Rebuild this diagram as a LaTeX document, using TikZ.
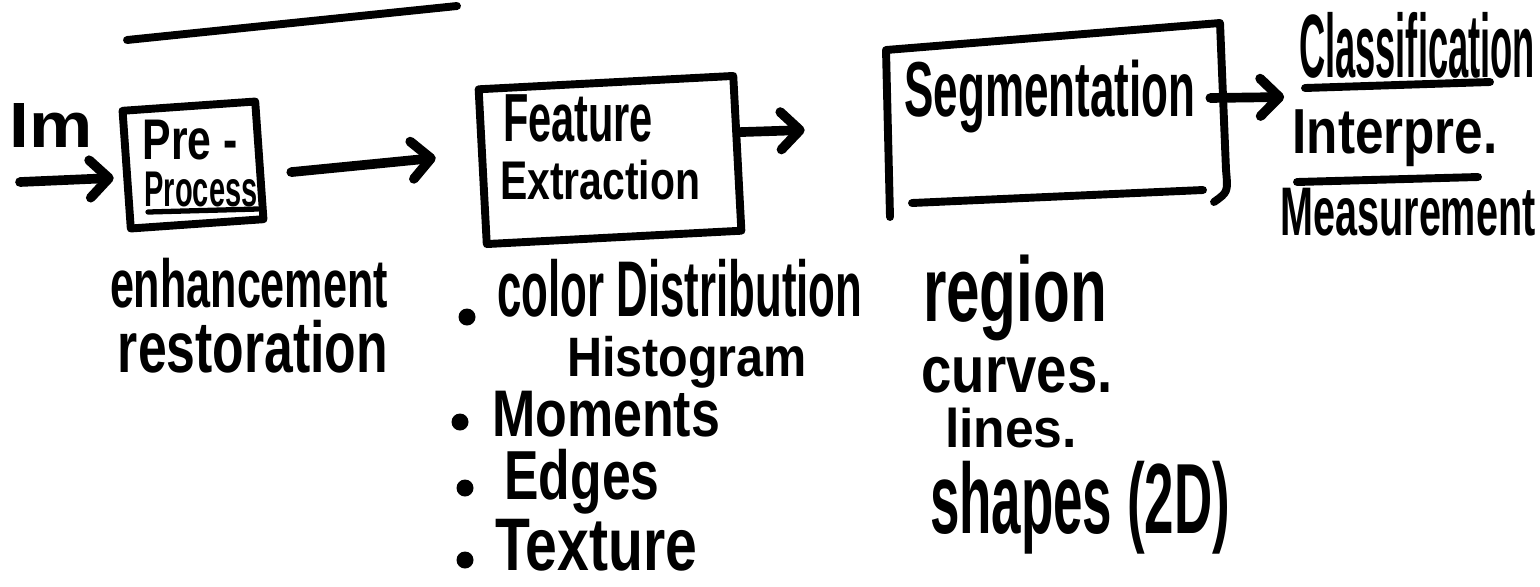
\documentclass[tikz,border=0pt]{standalone}
\usepackage{fontspec}
\setmainfont{Liberation Sans}
\usepackage{graphicx}
\usetikzlibrary{arrows.meta,calc}
\newcommand{\hw}[3]{\resizebox*{#1cm}{#2cm}{\bfseries #3}}
\tikzset{
  box/.style={draw, line width=4.5pt, line join=round, inner sep=0pt},
  ink/.style={line width=4.5pt, line cap=round, line join=round},
  thinink/.style={line width=3pt, line cap=round},
  arr/.style={line width=5.5pt, line cap=round,
    -{Straight Barb[length=0.38cm,width=0.75cm,line cap=round,line join=round]}},
  lbl/.style={inner sep=0pt, anchor=center},
  dot/.style={circle, fill, inner sep=0pt, minimum size=0.34cm}
}
\begin{document}
\begin{tikzpicture}[x=0.02cm, y=-0.02cm]
\useasboundingbox (0,0) rectangle (1540,586);

% title underline (title itself cut off)
\draw[ink] (127,40) -- (457,6);

% boxes
\node[box, minimum width=2.66cm, minimum height=2.36cm, rotate=4] (pre) at (193,165) {};
\node[box, minimum width=5.1cm, minimum height=3.1cm, rotate=3] (feat) at (610,160) {};
\node[inner sep=0pt, minimum width=6.76cm, minimum height=3.88cm] (seg) at (1055,120) {};
\node[inner sep=0pt, minimum width=5.1cm, minimum height=4.6cm] (cls) at (1408,123) {};

% segmentation outline
\draw[ink] (890,217) -- (886,50) -- (1220,23) -- (1226,170) .. controls (1228,192) .. (1214,202);
\draw[ink] (912,203) -- (1203,190);

% texts
\node[lbl] (im) at (51,125) {\hw{1.66}{0.88}{Im}};
\node[lbl] (tpre) at (190,140) {\hw{1.90}{0.80}{Pre -}};
\node[lbl] (tproc) at (201,189) {\hw{2.26}{0.70}{Process}};
\draw[thinink] (148,212) -- (258,209);
\node[lbl] (tfeat) at (578,118) {\hw{3.00}{0.95}{Feature}};
\node[lbl] (text) at (600,180) {\hw{4.00}{0.80}{Extraction}};
\node[lbl] (tseg) at (1050,97) {\hw{5.82}{1.46}{Segmentation}};
\node[lbl] (tcls) at (1417,45) {\hw{4.72}{1.32}{Classification}};
\node[lbl] (tint) at (1395,138) {\hw{4.10}{1.14}{Interpre.}};
\node[lbl] (tmea) at (1408,212) {\hw{5.10}{0.96}{Measurement}};
\draw[ink] (1305,88) -- (1490,82);
\draw[ink] (1297,182) -- (1478,177);

\node[lbl] (enh) at (249,283) {\hw{5.56}{1.00}{enhancement}};
\node[lbl] (res) at (253,347) {\hw{5.40}{1.06}{restoration}};

\node[dot] (b1) at (467,317) {};
\node[dot] (b2) at (460,422) {};
\node[dot] (b3) at (465,488) {};
\node[dot] (b4) at (465,560) {};
\node[lbl] (col) at (680,288) {\hw{7.30}{1.16}{color Distribution}};
\node[lbl] (his) at (687,362) {\hw{4.80}{1.04}{Histogram}};
\node[lbl] (mom) at (606,414) {\hw{4.56}{0.92}{Moments}};
\node[lbl] (edg) at (582,482) {\hw{3.10}{1.30}{Edges}};
\node[lbl] (tex) at (596,545) {\hw{4.04}{1.04}{Texture}};

\node[lbl] (reg) at (1015,298) {\hw{3.68}{1.72}{region}};
\node[lbl] (cur) at (1017,375) {\hw{3.82}{0.72}{curves.}};
\node[lbl] (lin) at (1011,428) {\hw{2.64}{0.80}{lines.}};
\node[lbl] (sha) at (1080,508) {\hw{6.00}{1.86}{shapes (2D)}};

% connectors
\coordinate (in) at (20,182);
\draw[arr] (in) -- ($(pre.west)+(-9,8)$);
\draw[arr] ($(pre.east)+(28,12)$) -- ($(feat.west)+(-43,-9)$);
\draw[arr] ($(feat.east)+(-2,-21)$) -- ($(seg.west)+(-81,10)$);
\draw[arr] ($(seg.east)+(-14,-22)$) -- ($(cls.west)+(4,-26)$);
\end{tikzpicture}
\end{document}
